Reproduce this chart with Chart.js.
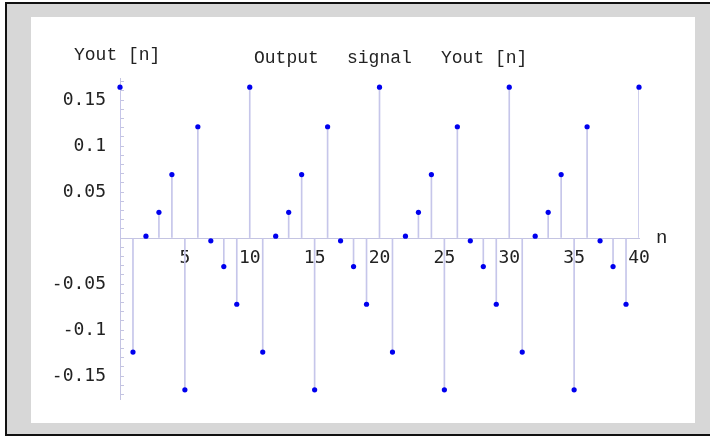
<!DOCTYPE html>
<html>
<head>
<meta charset="utf-8">
<script src="https://cdn.jsdelivr.net/npm/chart.js@4/dist/chart.umd.min.js"></script>
<style>
  html, body { margin: 0; padding: 0; background: #ffffff; }
  body { width: 710px; height: 436px; position: relative; overflow: hidden; }
  #frame { position: absolute; left: 5px; top: 2px; width: 720px; height: 430px;
           border-top: 2px solid #111; border-left: 2px solid #111; border-bottom: 2px solid #111;
           background: #d7d7d7; }
  #inner { position: absolute; left: 31px; top: 17px; width: 664px; height: 406px; background: #ffffff; }
  #c { position: absolute; left: 0; top: 0; }
</style>
</head>
<body>
<div id="frame"></div>
<div id="inner"></div>
<canvas id="c" width="710" height="436"></canvas>
<script>
// ---- data ----
const nValues = [0,1,2,3,4,5,6,7,8,9,10,11,12,13,14,15,16,17,18,19,20,
                 21,22,23,24,25,26,27,28,29,30,31,32,33,34,35,36,37,38,39,40];
const youtValues = [
  0.164, -0.124, 0.002, 0.028, 0.069, -0.165, 0.121, -0.003, -0.031, -0.072,
  0.164, -0.124, 0.002, 0.028, 0.069, -0.165, 0.121, -0.003, -0.031, -0.072,
  0.164, -0.124, 0.002, 0.028, 0.069, -0.165, 0.121, -0.003, -0.031, -0.072,
  0.164, -0.124, 0.002, 0.028, 0.069, -0.165, 0.121, -0.003, -0.031, -0.072,
  0.164
];
const xTickLabels = ['5','10','15','20','25','30','35','40'];
const yTickLabels = ['0.15','0.1','0.05','-0.05','-0.1','-0.15'];
const titleParts = ['Output', 'signal', 'Yout [n]'];
const yAxisTitle = 'Yout [n]';
const xAxisTitle = 'n';

const points = nValues.map((n, i) => ({x: n, y: youtValues[i]}));

const textPlugin = {
  id: 'texts',
  afterDraw(chart) {
    const ctx = chart.ctx;
    ctx.save();
    ctx.fillStyle = '#222';
    ctx.textBaseline = 'alphabetic';
    ctx.textAlign = 'left';
    ctx.font = '18px "Liberation Mono"';
    ctx.fillText(yAxisTitle, 74, 60);
    ctx.fillText(titleParts[0], 254, 63);
    ctx.fillText(titleParts[1], 347, 63);
    ctx.fillText(titleParts[2], 441, 63);
    ctx.font = '19px "Liberation Mono"';
    ctx.fillText(xAxisTitle, 656, 243);
    ctx.restore();
  }
};

new Chart(document.getElementById('c'), {
  type: 'bar',
  data: {
    datasets: [
      {
        type: 'scatter',
        data: points,
        pointRadius: 2.6,
        pointHoverRadius: 2.6,
        pointBackgroundColor: '#0000ee',
        pointBorderWidth: 0,
        clip: false,
        order: 0
      },
      {
        type: 'bar',
        data: points,
        backgroundColor: '#c6c6ea',
        borderWidth: 0,
        barThickness: 1,
        order: 1
      }
    ]
  },
  options: {
    responsive: false,
    animation: false,
    devicePixelRatio: 1,
    layout: { padding: { left: 0, right: 71, top: 78, bottom: 37 } },
    plugins: { legend: { display: false }, tooltip: { enabled: false }, title: { display: false } },
    scales: {
      x: {
        type: 'linear',
        position: { y: 0 },
        min: 0,
        max: 40,
        offset: false,
        afterFit(scale) { scale.height = 0; },
        grid: { display: false, drawTicks: false },
        border: { display: true, color: '#c4c4e2', width: 1 },
        ticks: {
          stepSize: 5,
          autoSkip: false,
          maxRotation: 0,
          padding: 9,
          color: '#222',
          font: { family: '"DejaVu Sans Mono"', size: 18 },
          callback(v) { const s = String(Math.round(v)); return xTickLabels.includes(s) ? s : ''; }
        }
      },
      y: {
        type: 'linear',
        position: 'left',
        min: -0.175,
        max: 0.174,
        afterFit(scale) { scale.width = 120; },
        grid: { display: true, drawOnChartArea: false, drawTicks: true, tickLength: -4, color: '#c4c4e2' },
        border: { display: true, color: '#c4c4e2', width: 1 },
        ticks: {
          stepSize: 0.01,
          autoSkip: false,
          includeBounds: false,
          padding: 18,
          color: '#222',
          font: { family: '"DejaVu Sans Mono"', size: 18 },
          callback(v) {
            const s = String(Math.round(v * 100) / 100);
            return yTickLabels.includes(s) ? s : '';
          }
        }
      }
    }
  },
  plugins: [textPlugin]
});
</script>
</body>
</html>
